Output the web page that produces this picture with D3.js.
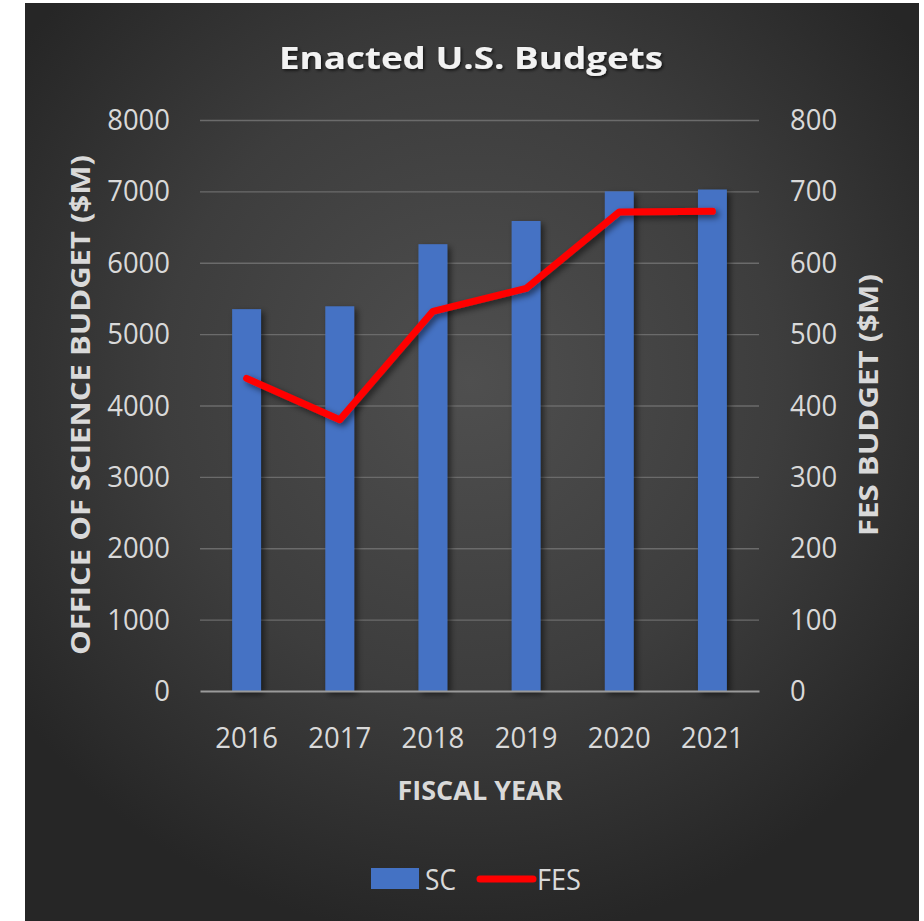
<!DOCTYPE html>
<html>
<head>
<meta charset="utf-8">
<script src="https://cdn.jsdelivr.net/npm/d3@7/dist/d3.min.js"></script>
<style>
  html, body { margin: 0; padding: 0; background: #ffffff; }
  svg { display: block; }
  text { font-family: "Open Sans", "Noto Sans", sans-serif; }
</style>
</head>
<body>
<svg id="chart" width="924" height="921"></svg>
<script>
// Enacted budgets by fiscal year
const years = ["2016", "2017", "2018", "2019", "2020", "2021"];
const scBudget = [5350, 5390, 6260, 6585, 7000, 7026];   // Office of Science, $M
const fesBudget = [438, 380, 532, 564, 671, 672];          // Fusion Energy Sciences, $M
const leftTicks = [0, 1000, 2000, 3000, 4000, 5000, 6000, 7000, 8000];
const rightTicks = [0, 100, 200, 300, 400, 500, 600, 700, 800];

const svg = d3.select("#chart");
const W = 924, H = 921;
const plot = { left: 200, right: 759, top: 120, bottom: 691 };

const defs = svg.append("defs");
const bg = defs.append("radialGradient")
  .attr("id", "bgGrad")
  .attr("gradientUnits", "userSpaceOnUse")
  .attr("cx", 470).attr("cy", 380).attr("r", 560);
bg.append("stop").attr("offset", "0%").attr("stop-color", "#4f4f4f");
bg.append("stop").attr("offset", "55%").attr("stop-color", "#3d3d3d");
bg.append("stop").attr("offset", "100%").attr("stop-color", "#262626");

const shadow = defs.append("filter").attr("id", "shadow")
  .attr("x", "-30%").attr("y", "-10%").attr("width", "180%").attr("height", "130%");
shadow.append("feDropShadow")
  .attr("dx", 3).attr("dy", 3).attr("stdDeviation", 3)
  .attr("flood-color", "#000").attr("flood-opacity", 0.55);

const textShadow = defs.append("filter").attr("id", "textShadow")
  .attr("x", "-10%").attr("y", "-30%").attr("width", "120%").attr("height", "160%");
textShadow.append("feDropShadow")
  .attr("dx", 1.5).attr("dy", 1.5).attr("stdDeviation", 1.5)
  .attr("flood-color", "#000").attr("flood-opacity", 0.7);

// background panel
svg.append("rect")
  .attr("x", 25).attr("y", 3)
  .attr("width", 919 - 25).attr("height", H - 3)
  .attr("fill", "url(#bgGrad)");

// scales
const x = d3.scaleBand()
  .domain(years)
  .range([plot.left, plot.right])
  .paddingInner(0.69)
  .paddingOuter(0.345);
const yL = d3.scaleLinear().domain([0, 8000]).range([plot.bottom, plot.top]);
const yR = d3.scaleLinear().domain([0, 800]).range([plot.bottom, plot.top]);

// gridlines
const grid = d3.axisLeft(yL).tickValues(leftTicks.filter(d => d > 0))
  .tickSize(-(plot.right - plot.left)).tickFormat("");
svg.append("g")
  .attr("transform", `translate(${plot.left},0)`)
  .call(grid)
  .call(g => g.select(".domain").remove())
  .call(g => g.selectAll("line").attr("stroke", "#6b6b6b").attr("stroke-width", 1.3));

// bars
svg.append("g").selectAll("rect")
  .data(years.map((y, i) => ({ year: y, v: scBudget[i] })))
  .join("rect")
  .attr("x", d => x(d.year))
  .attr("y", d => yL(d.v))
  .attr("width", x.bandwidth())
  .attr("height", d => yL(0) - yL(d.v))
  .attr("fill", "#4472C4")
  .attr("filter", "url(#shadow)");

// category axis line
svg.append("g")
  .attr("transform", `translate(0,${plot.bottom})`)
  .call(d3.axisBottom(x).tickSize(0).tickPadding(0).tickFormat(""))
  .call(g => g.select(".domain").attr("stroke", "#9a9a9a").attr("stroke-width", 2));

// FES line
const line = d3.line()
  .x((d, i) => x(years[i]) + x.bandwidth() / 2)
  .y(d => yR(d));
svg.append("path")
  .datum(fesBudget)
  .attr("d", line)
  .attr("fill", "none")
  .attr("stroke", "#ff0000")
  .attr("stroke-width", 7)
  .attr("stroke-linejoin", "round")
  .attr("stroke-linecap", "round")
  .attr("filter", "url(#shadow)");

const tickColor = "#d9d9d9";
const digitWidth = 15.7;   // narrow numerals

function styleTicks(g) {
  g.select(".domain").remove();
  g.selectAll("text")
    .attr("fill", tickColor)
    .style("font-size", "30px")
    .style("font-family", "'Open Sans', sans-serif")
    .attr("lengthAdjust", "spacingAndGlyphs")
    .attr("textLength", function () { return this.textContent.length * digitWidth; });
}

// left value axis
svg.append("g")
  .attr("transform", `translate(${plot.left},0)`)
  .call(d3.axisLeft(yL).tickValues(leftTicks).tickSize(0).tickPadding(30).tickFormat(d3.format("d")))
  .call(styleTicks);

// right value axis
svg.append("g")
  .attr("transform", `translate(${plot.right},0)`)
  .call(d3.axisRight(yR).tickValues(rightTicks).tickSize(0).tickPadding(31).tickFormat(d3.format("d")))
  .call(styleTicks);

// category labels
svg.append("g")
  .attr("transform", `translate(0,${plot.bottom})`)
  .call(d3.axisBottom(x).tickSize(0).tickPadding(36))
  .call(styleTicks);

// titles
svg.append("text")
  .attr("x", 471).attr("y", 69)
  .attr("text-anchor", "middle")
  .attr("fill", "#f2f2f2")
  .attr("font-weight", "bold")
  .style("font-size", "31px")
  .attr("textLength", 384).attr("lengthAdjust", "spacingAndGlyphs")
  .attr("filter", "url(#textShadow)")
  .text("Enacted U.S. Budgets");

svg.append("text")
  .attr("x", 480).attr("y", 800)
  .attr("text-anchor", "middle")
  .attr("fill", tickColor)
  .attr("font-weight", "bold")
  .style("font-size", "26px")
  .attr("textLength", 165).attr("lengthAdjust", "spacingAndGlyphs")
  .text("FISCAL YEAR");

svg.append("text")
  .attr("transform", "translate(90,405) rotate(-90)")
  .attr("text-anchor", "middle")
  .attr("fill", tickColor)
  .attr("font-weight", "bold")
  .style("font-size", "26px")
  .attr("textLength", 500).attr("lengthAdjust", "spacingAndGlyphs")
  .text("OFFICE OF SCIENCE BUDGET ($M)");

svg.append("text")
  .attr("transform", "translate(878,405) rotate(-90)")
  .attr("text-anchor", "middle")
  .attr("fill", tickColor)
  .attr("font-weight", "bold")
  .style("font-size", "26px")
  .attr("textLength", 262).attr("lengthAdjust", "spacingAndGlyphs")
  .text("FES BUDGET ($M)");

// legend
const legend = svg.append("g");
legend.append("rect")
  .attr("x", 371).attr("y", 868).attr("width", 48).attr("height", 21)
  .attr("fill", "#4472C4");
legend.append("text")
  .attr("x", 425).attr("y", 890)
  .attr("fill", tickColor).style("font-size", "30px")
  .attr("textLength", 31).attr("lengthAdjust", "spacingAndGlyphs")
  .text("SC");
legend.append("line")
  .attr("x1", 480).attr("x2", 533).attr("y1", 879).attr("y2", 879)
  .attr("stroke", "#ff0000").attr("stroke-width", 7).attr("stroke-linecap", "round");
legend.append("text")
  .attr("x", 537).attr("y", 890)
  .attr("fill", tickColor).style("font-size", "30px")
  .attr("textLength", 44).attr("lengthAdjust", "spacingAndGlyphs")
  .text("FES");
</script>
</body>
</html>
